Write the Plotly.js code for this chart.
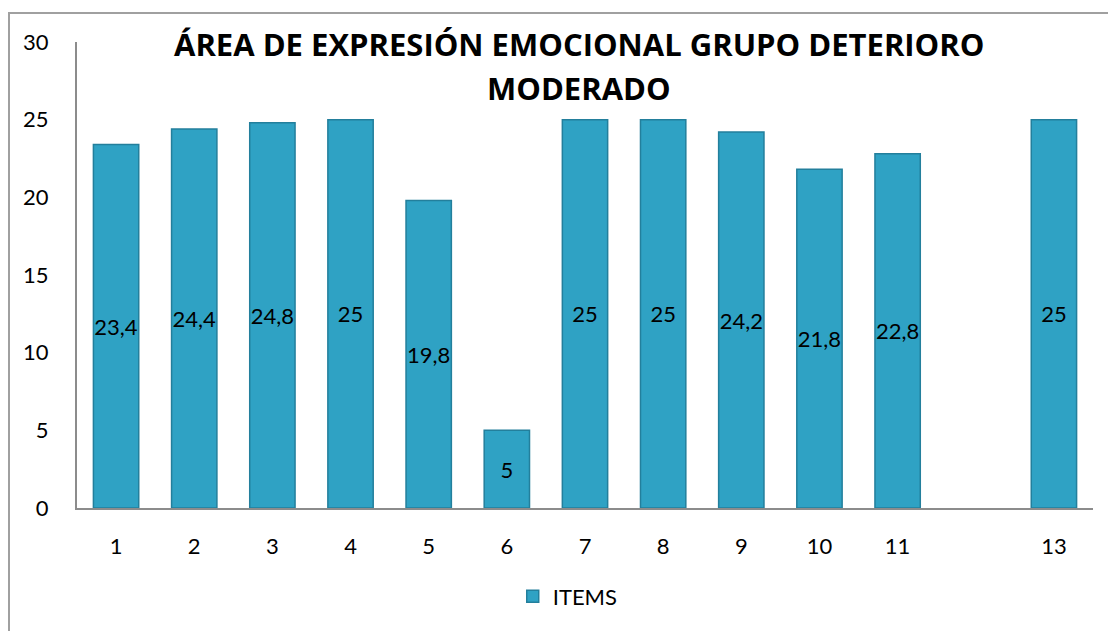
<!DOCTYPE html>
<html>
<head>
<meta charset="utf-8">
<script src="https://cdn.plot.ly/plotly-3.0.1.min.js"></script>
<style>
  html, body { margin: 0; padding: 0; background: #fff; overflow: hidden; }
  #wrap { position: relative; width: 1108px; height: 631px; }
  #frame { position: absolute; left: 8px; top: 12px; width: 1120px; height: 640px; border: 2px solid #a0a0a0; box-sizing: border-box; pointer-events: none; z-index: 5; }
  #chart { position: absolute; left: 0; top: 0; width: 1108px; height: 631px; }
</style>
</head>
<body>
<div id="wrap">
  <div id="chart"></div>
  <div id="frame"></div>
</div>
<script>
const items = [1, 2, 3, 4, 5, 6, 7, 8, 9, 10, 11, 13];
const values = [23.4, 24.4, 24.8, 25, 19.8, 5, 25, 25, 24.2, 21.8, 22.8, 25];
const labels = ["23,4", "24,4", "24,8", "25", "19,8", "5", "25", "25", "24,2", "21,8", "22,8", "25"];
const tickLabels = ["1", "2", "3", "4", "5", "6", "7", "8", "9", "10", "11", "13"];
const seriesName = "ITEMS";
const titleLines = ["ÁREA DE EXPRESIÓN EMOCIONAL GRUPO DETERIORO", "MODERADO"];

const font = "Lato, 'Liberation Sans', sans-serif";
const titleFont = { family: "'Open Sans', Lato, sans-serif", size: 31, color: "#000", weight: "bold" };

const trace = {
  type: "bar",
  x: items,
  y: values,
  name: seriesName,
  width: 0.58,
  text: labels,
  texttemplate: "%{text}",
  textposition: "inside",
  insidetextanchor: "middle",
  textangle: 0,
  constraintext: "none",
  insidetextfont: { family: font, size: 22, color: "#000" },
  marker: { color: "#2fa2c4", line: { color: "#237f9c", width: 1.5 } },
  hoverinfo: "x+y"
};

const layout = {
  width: 1108,
  height: 631,
  margin: { l: 77, r: 15, t: 42, b: 123 },
  paper_bgcolor: "#fff",
  plot_bgcolor: "#fff",
  showlegend: true,
  annotations: [
    { text: titleLines[0], xref: "paper", yref: "paper", x: 0.494, y: 0.9957, xanchor: "center", yanchor: "middle", showarrow: false, font: titleFont },
    { text: titleLines[1], xref: "paper", yref: "paper", x: 0.494, y: 0.901, xanchor: "center", yanchor: "middle", showarrow: false, font: titleFont }
  ],
  xaxis: {
    range: [0.5, 13.5],
    tickvals: items,
    ticktext: tickLabels,
    showgrid: false,
    zeroline: false,
    showline: true,
    linecolor: "#8c8c8c",
    linewidth: 2,
    ticks: "",
    ticklabelstandoff: 18,
    tickfont: { family: font, size: 22, color: "#000" }
  },
  yaxis: {
    range: [0, 30],
    tickvals: [0, 5, 10, 15, 20, 25, 30],
    showgrid: false,
    zeroline: false,
    showline: true,
    linecolor: "#8c8c8c",
    linewidth: 2,
    ticks: "",
    ticklabelstandoff: 22,
    tickfont: { family: font, size: 22, color: "#000" }
  },
  legend: {
    orientation: "h",
    x: 0.483, xanchor: "center",
    y: -0.19, yanchor: "middle",
    font: { family: font, size: 22, color: "#000" },
    itemwidth: 30
  },
  bargap: 0.4
};

Plotly.newPlot("chart", [trace], layout, { displayModeBar: false, staticPlot: true });
</script>
</body>
</html>
